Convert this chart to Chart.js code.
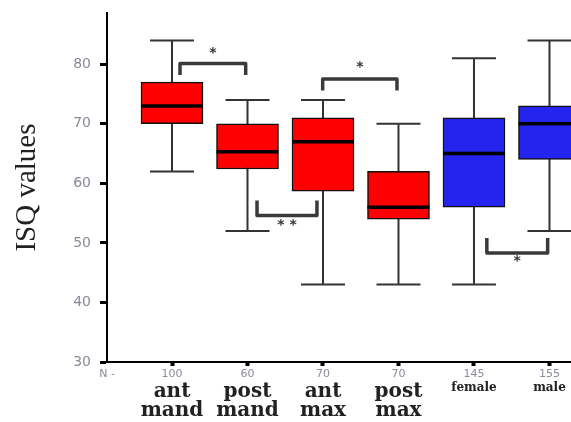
<!DOCTYPE html>
<html><head><meta charset="utf-8">
<script src="https://cdn.jsdelivr.net/npm/chart.js@4"></script>
<style>html,body{margin:0;padding:0;background:#fff;overflow:hidden;}</style>
</head><body>
<canvas id="c" width="571" height="422"></canvas>
<script>
const categories = [['ant','mand'],['post','mand'],['ant','max'],['post','max'],'female','male'];
const nValues = ['100','60','70','70','145','155'];
const whiskerLow  = [62, 52,   43,   43, 43, 52];
const q1          = [70, 62.4, 58.7, 54, 56, 64];
const median      = [73, 65.3, 67,   56, 65, 70];
const q3          = [77, 70,   71,   62, 71, 73];
const whiskerHigh = [84, 74,   74,   70, 81, 84];
const boxColors = ['#ff0000','#ff0000','#ff0000','#ff0000','#2424ee','#2424ee'];
const yTicks = [30, 40, 50, 60, 70, 80];
// significance brackets: x in category units, y in ISQ units
const brackets = [
  {x1: 0.106, x2: 0.976, yBar: 80.1, yLeg: 78.2, label: '*',   yLabel: 81.8},
  {x1: 1.126, x2: 1.92,  yBar: 54.6, yLeg: 57.1, label: '* *', yLabel: 52.9},
  {x1: 1.996, x2: 2.98,  yBar: 77.5, yLeg: 75.6, label: '*',   yLabel: 79.4},
  {x1: 4.17,  x2: 4.976, yBar: 48.3, yLeg: 50.8, label: '*',   yLabel: 46.9}
];
const X_MIN = -0.861, X_MAX = 5.285, Y_MIN = 30, Y_MAX = 88.6;

const boxPlugin = {
  id: 'boxParts',
  beforeDatasetsDraw(chart) {
    const {ctx, scales: {x, y}} = chart;
    ctx.save();
    ctx.strokeStyle = '#333';
    ctx.lineWidth = 2;
    whiskerLow.forEach((lo, i) => {
      const px = x.getPixelForValue(i);
      const yl = y.getPixelForValue(lo), yh = y.getPixelForValue(whiskerHigh[i]);
      ctx.beginPath();
      ctx.moveTo(px, yl); ctx.lineTo(px, yh);
      ctx.moveTo(px - 22, yl); ctx.lineTo(px + 22, yl);
      ctx.moveTo(px - 22, yh); ctx.lineTo(px + 22, yh);
      ctx.stroke();
    });
    ctx.restore();
  },
  afterDatasetsDraw(chart) {
    const {ctx, scales: {x, y}} = chart;
    const meta = chart.getDatasetMeta(0);
    ctx.save();
    ctx.strokeStyle = '#000';
    ctx.lineWidth = 3.5;
    median.forEach((m, i) => {
      const el = meta.data[i];
      const py = y.getPixelForValue(m);
      ctx.beginPath();
      ctx.moveTo(el.x - el.width / 2, py); ctx.lineTo(el.x + el.width / 2, py);
      ctx.stroke();
    });
    ctx.strokeStyle = '#3a3a3a';
    ctx.lineWidth = 3.5;
    ctx.lineJoin = 'round';
    ctx.fillStyle = '#333';
    ctx.font = 'bold 14px "DejaVu Sans"';
    ctx.textAlign = 'center';
    ctx.textBaseline = 'middle';
    brackets.forEach(b => {
      const xa = x.getPixelForValue(b.x1), xb = x.getPixelForValue(b.x2);
      const yb = y.getPixelForValue(b.yBar), yl = y.getPixelForValue(b.yLeg);
      ctx.beginPath();
      ctx.moveTo(xa, yl); ctx.lineTo(xa, yb); ctx.lineTo(xb, yb); ctx.lineTo(xb, yl);
      ctx.stroke();
      ctx.fillText(b.label, (xa + xb) / 2, y.getPixelForValue(b.yLabel));
    });
    ctx.restore();
  }
};

new Chart(document.getElementById('c'), {
  type: 'bar',
  data: {
    datasets: [{
      data: q1.map((v, i) => ({x: i, y: [v, q3[i]]})),
      backgroundColor: boxColors,
      borderColor: '#111',
      borderWidth: 1.5,
      borderSkipped: false,
      barThickness: 62
    }]
  },
  options: {
    responsive: false,
    animation: false,
    layout: {padding: {top: 13, left: 0, right: 0, bottom: 0}},
    plugins: {legend: {display: false}, tooltip: {enabled: false}},
    scales: {
      x: {
        type: 'linear', position: 'bottom', min: X_MIN, max: X_MAX, offset: false,
        grid: {offset: false, drawOnChartArea: false, drawTicks: true, tickLength: 4, tickWidth: 4,
               tickColor: c => (c.tick && c.tick.value < -0.5) ? 'rgba(0,0,0,0)' : '#000'},
        border: {display: true, color: '#000', width: 2},
        afterBuildTicks: s => { s.ticks = [X_MIN, 0, 1, 2, 3, 4, 5].map(v => ({value: v})); },
        afterFit: s => { s.height = 18; },
        ticks: {
          autoSkip: false, maxRotation: 0, minRotation: 0, padding: 2,
          color: '#8a8a9a', font: {family: 'DejaVu Sans', size: 11},
          callback: v => v < -0.5 ? 'N -' : nValues[Math.round(v)]
        }
      },
      x2: {
        type: 'linear', axis: 'x', position: 'bottom', min: X_MIN, max: X_MAX, offset: false,
        grid: {display: false, drawTicks: false},
        border: {display: false},
        afterBuildTicks: s => { s.ticks = [0, 1, 2, 3, 4, 5].map(v => ({value: v})); },
        afterFit: s => { s.height = 42; },
        ticks: {
          autoSkip: false, maxRotation: 0, minRotation: 0, padding: 2,
          color: '#222',
          font: c => {
            const v = c.tick ? Math.round(c.tick.value) : 0;
            return v >= 4 ? {family: 'DejaVu Serif', size: 12, weight: 'bold', lineHeight: 1.0}
                          : {family: 'DejaVu Serif', size: 20, weight: 'bold', lineHeight: 0.95};
          },
          callback: v => categories[Math.round(v)]
        }
      },
      y: {
        type: 'linear', min: Y_MIN, max: Y_MAX,
        afterBuildTicks: s => { s.ticks = yTicks.map(v => ({value: v})); },
        afterFit: s => { s.width = 107; s.paddingTop = 4; s.paddingBottom = 4; },
        grid: {drawOnChartArea: false, drawTicks: true, tickLength: 7, tickWidth: 3, tickColor: '#000'},
        border: {display: true, color: '#000', width: 2},
        ticks: {padding: 9, color: '#8a8a9a', font: {family: 'DejaVu Sans', size: 14}},
        title: {display: true, text: 'ISQ values', color: '#222',
                font: {family: 'Liberation Serif', size: 29}, padding: {top: 10, bottom: 0}}
      }
    }
  },
  plugins: [boxPlugin]
});
</script>
</body></html>
